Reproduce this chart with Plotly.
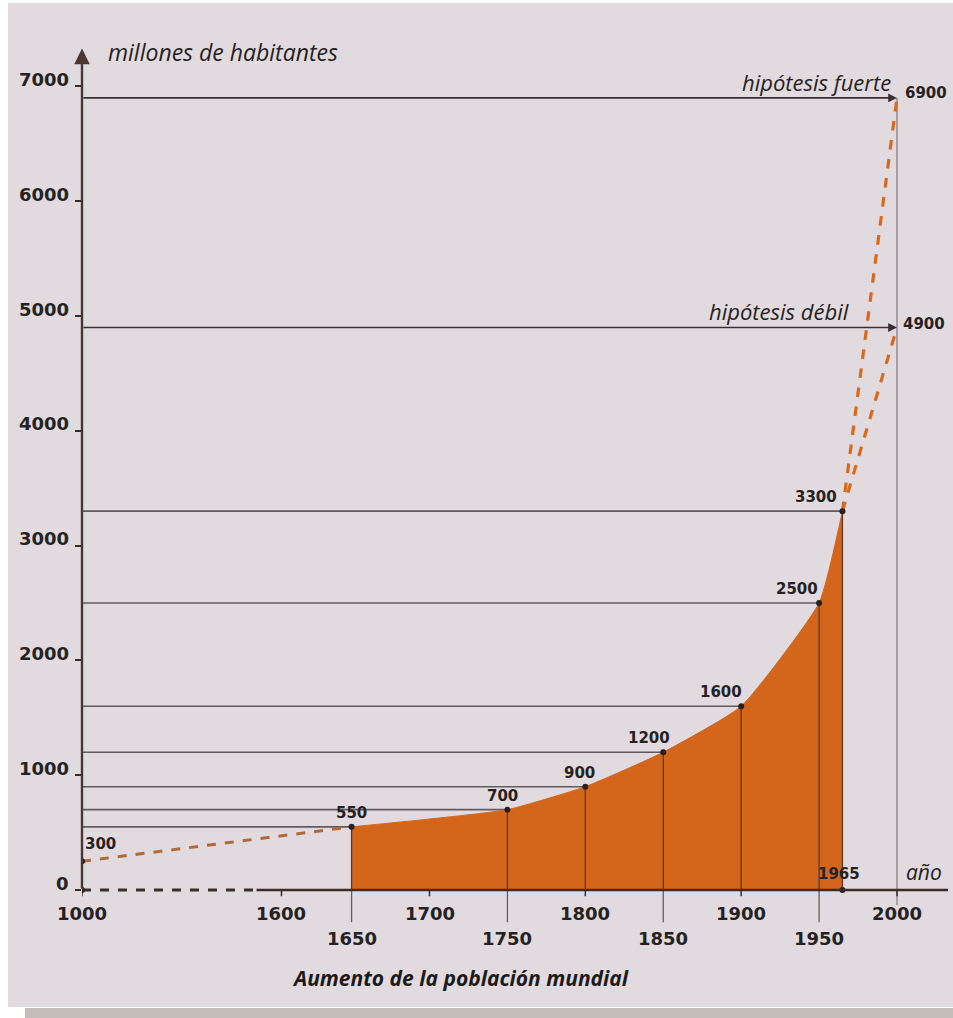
import numpy as np
import plotly.graph_objects as go

# ---------------- data ----------------
hist_years = [1650, 1750, 1800, 1850, 1900, 1950, 1965]
hist_pop = [550, 700, 900, 1200, 1600, 2500, 3300]
hist_labels = ["550", "700", "900", "1200", "1600", "2500", "3300"]

early_years = [1000, 1650]
early_pop = [250, 550]
early_label = "300"

proj_years = [1965, 2000]
proj_strong = [3300, 6900]
proj_weak = [3300, 4900]
strong_label = "6900"
weak_label = "4900"

y_ticks = [0, 1000, 2000, 3000, 4000, 5000, 6000, 7000]
x_ticks_top = [1000, 1600, 1700, 1800, 1900, 2000]
x_ticks_bottom = [1650, 1750, 1850, 1950]
marked_year = 1965

# ---------------- broken time axis ----------------
KNOT_YEARS = [1000, 1600, 1650, 2100]
KNOT_POS = [1477, 1605, 1650, 2100]


def xd(year):
    return float(np.interp(year, KNOT_YEARS, KNOT_POS))


# pixel geometry
W, H = 953, 1018
L_PX, R_PX = 82, 948
T_PX, B_PX = 48, 940
ZERO_PX = 890
KX = 1.5583           # px per year
KY = 0.1148           # px per million
X0 = xd(1000)
XMAX = X0 + (R_PX - L_PX) / KX
YMAX = (ZERO_PX - T_PX) / KY
YMIN = YMAX - (B_PX - T_PX) / KY


def pxx(px):
    return (px - L_PX) / (R_PX - L_PX)


def pxy(py):
    return (B_PX - py) / (B_PX - T_PX)


ORANGE = "#D4661B"
DASH_ORANGE = "#D86A1E"
EARLY_DASH = "#B06A3A"
DARK = "#3a2e2b"
GRID = "#625a5e"
TXT = "#262222"
NUMFONT = dict(family="DejaVu Sans", size=15, color=TXT, weight="bold")
TICKFONT = dict(family="DejaVu Sans", size=18, color=TXT, weight="bold")
ITFONT = dict(family="Open Sans", size=22, color=TXT, style="italic")

fig = go.Figure()

# horizontal reference lines from the y axis to each point
for yr, v in zip(hist_years, hist_pop):
    fig.add_trace(go.Scatter(x=[X0, xd(yr)], y=[v, v], mode="lines",
                             line=dict(color=GRID, width=1.6),
                             hoverinfo="skip", showlegend=False))

# orange area 1650-1965
fig.add_trace(go.Scatter(x=[xd(y) for y in hist_years], y=hist_pop,
                         mode="lines", fill="tozeroy", fillcolor=ORANGE,
                         line=dict(color=ORANGE, width=1, shape="spline", smoothing=0.45),
                         hoverinfo="skip", showlegend=False))

# vertical lines from points to the axis
for yr, v in zip(hist_years, hist_pop):
    fig.add_trace(go.Scatter(x=[xd(yr), xd(yr)], y=[0, v], mode="lines",
                             line=dict(color="#5a3626", width=1.3),
                             hoverinfo="skip", showlegend=False))

# vertical line at 2000
fig.add_trace(go.Scatter(x=[xd(2000), xd(2000)], y=[-130, proj_strong[-1]], mode="lines",
                         line=dict(color="#8a8084", width=1.3),
                         hoverinfo="skip", showlegend=False))

# x tick marks
for yr in x_ticks_top:
    fig.add_trace(go.Scatter(x=[xd(yr), xd(yr)], y=[0, -55], mode="lines",
                             line=dict(color=DARK, width=1.5),
                             hoverinfo="skip", showlegend=False))
for yr in x_ticks_bottom:
    fig.add_trace(go.Scatter(x=[xd(yr), xd(yr)], y=[0, -280], mode="lines",
                             line=dict(color="#6a5a55", width=1.3),
                             hoverinfo="skip", showlegend=False))

# early dashed estimate
fig.add_trace(go.Scatter(x=[xd(y) for y in early_years], y=early_pop, mode="lines",
                         line=dict(color=EARLY_DASH, width=3, dash="dash"),
                         hoverinfo="skip", showlegend=False))

# projections
for series in (proj_strong, proj_weak):
    fig.add_trace(go.Scatter(x=[xd(y) for y in proj_years], y=series, mode="lines",
                             line=dict(color=DASH_ORANGE, width=3.2, dash="dash"),
                             hoverinfo="skip", showlegend=False))

# x axis line: dashed across the break, solid afterwards
AXIS_BREAK = 1589
fig.add_shape(type="line", xref="x", yref="y", x0=X0, x1=AXIS_BREAK, y0=0, y1=0,
              line=dict(color=DARK, width=3, dash="dash"))
fig.add_shape(type="line", xref="x", yref="y", x0=AXIS_BREAK, x1=XMAX, y0=0, y1=0,
              line=dict(color=DARK, width=2.6))

# dots
dot_x = [xd(y) for y in hist_years] + [xd(early_years[0]), X0, xd(marked_year)]
dot_y = hist_pop + [early_pop[0], 0, 0]
fig.add_trace(go.Scatter(x=dot_x, y=dot_y, mode="markers",
                         marker=dict(color="#2a1f1c", size=6),
                         hoverinfo="skip", showlegend=False))

ann = []
# y axis with arrow
ann.append(dict(x=X0, y=YMAX - 5, ax=X0, ay=0, xref="x", yref="y", axref="x", ayref="y",
                text="", showarrow=True, arrowhead=2, arrowsize=1.3, arrowwidth=2.4,
                arrowcolor="#4a3732"))
# projection reference lines with arrows
for v in (proj_strong[-1], proj_weak[-1]):
    ann.append(dict(x=xd(2000), y=v, ax=X0, ay=v, xref="x", yref="y", axref="x", ayref="y",
                    text="", showarrow=True, arrowhead=2, arrowsize=1.1, arrowwidth=1.6,
                    arrowcolor="#3a3033"))

# y tick labels
for v in y_ticks:
    ann.append(dict(x=pxx(71), y=v, xref="paper", yref="y", text=f"{v}", showarrow=False,
                    xanchor="right", yanchor="middle", yshift=7, font=TICKFONT))

# x tick labels
for yr in x_ticks_top:
    ann.append(dict(x=xd(yr), y=pxy(913), xref="x", yref="paper", text=f"{yr}",
                    showarrow=False, xanchor="center", yanchor="middle", font=TICKFONT))
for yr in x_ticks_bottom:
    ann.append(dict(x=xd(yr), y=pxy(938), xref="x", yref="paper", text=f"{yr}",
                    showarrow=False, xanchor="center", yanchor="middle", font=TICKFONT))

# point labels
label_shift = [0, -5, -6, -14, -20, -22, -26]
for yr, v, t, s in zip(hist_years, hist_pop, hist_labels, label_shift):
    ann.append(dict(x=xd(yr), y=v, xref="x", yref="y", text=t, showarrow=False,
                    xanchor="center", yanchor="bottom", xshift=s, yshift=3, font=NUMFONT))
ann.append(dict(x=X0, y=early_pop[0], xref="x", yref="y", text=early_label, showarrow=False,
                xanchor="left", yanchor="bottom", xshift=1, yshift=6, font=NUMFONT))
ann.append(dict(x=xd(2000), y=proj_strong[-1], xref="x", yref="y", text=strong_label,
                showarrow=False, xanchor="left", yanchor="middle", xshift=6, yshift=5,
                font=NUMFONT))
ann.append(dict(x=xd(2000), y=proj_weak[-1], xref="x", yref="y", text=weak_label,
                showarrow=False, xanchor="left", yanchor="middle", xshift=4, yshift=3,
                font=NUMFONT))
ann.append(dict(x=xd(marked_year), y=0, xref="x", yref="y", text=f"{marked_year}",
                showarrow=False, xanchor="center", yanchor="bottom", xshift=-3, yshift=5,
                font=NUMFONT))

# texts
ann.append(dict(x=pxx(106), y=pxy(52), xref="paper", yref="paper",
                text="millones de habitantes", showarrow=False, xanchor="left",
                yanchor="middle", font=dict(ITFONT, size=23)))
ann.append(dict(x=xd(2000), y=proj_strong[-1], xref="x", yref="y", text="hipótesis fuerte",
                showarrow=False, xanchor="right", yanchor="bottom", xshift=-4, yshift=-1,
                font=ITFONT))
ann.append(dict(x=xd(2000), y=proj_weak[-1], xref="x", yref="y", text="hipótesis débil",
                showarrow=False, xanchor="right", yanchor="bottom", xshift=-46, yshift=-1,
                font=ITFONT))
ann.append(dict(x=pxx(904), y=pxy(872), xref="paper", yref="paper", text="año",
                showarrow=False, xanchor="left", yanchor="middle", font=dict(ITFONT, size=21)))
ann.append(dict(x=pxx(460), y=pxy(978), xref="paper", yref="paper",
                text="Aumento de la población mundial", showarrow=False,
                xanchor="center", yanchor="middle",
                font=dict(family="Open Sans", size=21, color="#1e1a1a", style="italic",
                          weight="bold")))

# scan border / shadow
shapes = [
    dict(type="rect", xref="paper", yref="paper", x0=pxx(0), x1=pxx(8), y0=pxy(1018), y1=pxy(0),
         fillcolor="white", line=dict(width=0), layer="below"),
    dict(type="rect", xref="paper", yref="paper", x0=pxx(0), x1=pxx(953), y0=pxy(3), y1=pxy(0),
         fillcolor="white", line=dict(width=0), layer="below"),
    dict(type="rect", xref="paper", yref="paper", x0=pxx(0), x1=pxx(953), y0=pxy(1018),
         y1=pxy(1007), fillcolor="white", line=dict(width=0), layer="below"),
    dict(type="rect", xref="paper", yref="paper", x0=pxx(25), x1=pxx(953), y0=pxy(1018),
         y1=pxy(1008), fillcolor="#C4BDB9", line=dict(width=0), layer="below"),
]
for s in shapes:
    fig.add_shape(**s)

fig.update_layout(
    width=W, height=H,
    margin=dict(l=L_PX, r=W - R_PX, t=T_PX, b=H - B_PX, pad=0),
    paper_bgcolor="#E1DADF",
    plot_bgcolor="rgba(0,0,0,0)",
    annotations=ann,
    showlegend=False,
    xaxis=dict(range=[X0, XMAX], showgrid=False, zeroline=False, showline=False,
               showticklabels=False, ticks="", fixedrange=True),
    yaxis=dict(range=[YMIN, YMAX], showgrid=False, zeroline=False, showline=False,
               showticklabels=False, tickvals=y_ticks, ticks="outside", ticklen=6,
               tickwidth=1.5, tickcolor=DARK, fixedrange=True),
)

fig.write_html("out.html", config={"displayModeBar": False},
               post_script="document.body.style.margin='0';document.body.style.overflow='hidden';")
